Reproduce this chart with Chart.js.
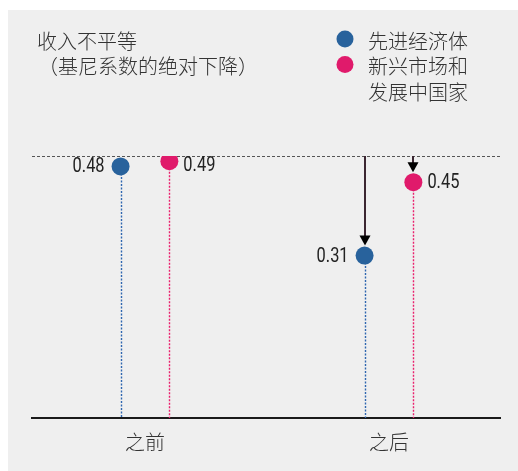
<!DOCTYPE html>
<html>
<head>
<meta charset="utf-8">
<script src="https://cdn.jsdelivr.net/npm/chart.js@4.4.1/dist/chart.umd.min.js"></script>
<style>
  html, body { margin: 0; padding: 0; background: #fff; }
  #wrap { width: 518px; height: 471px; }
</style>
</head>
<body>
<div id="wrap"><canvas id="grafico"></canvas></div>
<script>
// dados
const categorias = ["之前", "之后"];
const avancadas = [0.48, 0.31];
const emergentes = [0.49, 0.45];
const referencia = 0.5;
const nomesSeries = [["先进经济体"], ["新兴市场和", "发展中国家"]];
const titulo = ["收入不平等", "（基尼系数的绝对下降）"];

const azul = "#28629c";
const rosa = "#e01a6b";
const cjk = "'Noto Sans CJK SC', 'Noto Sans', sans-serif";

function pontos(valores, desloc) {
  return valores.map((v, i) => ({ x: i + 1 + desloc, y: v }));
}

const fundo = {
  id: "fundo",
  beforeDraw(chart) {
    const ctx = chart.ctx;
    ctx.save();
    ctx.fillStyle = "#efefef";
    ctx.fillRect(8, 10, 510, 461);
    ctx.restore();
  },
};

const hastes = {
  id: "hastes",
  beforeDatasetsDraw(chart) {
    const ctx = chart.ctx;
    const y = chart.scales.y;
    const x = chart.scales.x;
    ctx.save();
    // linha pontilhada de referencia
    ctx.strokeStyle = "#555";
    ctx.lineWidth = 1;
    ctx.setLineDash([3, 2]);
    const yr = Math.round(y.getPixelForValue(referencia)) + 0.5;
    ctx.beginPath();
    ctx.moveTo(x.left, yr);
    ctx.lineTo(x.right, yr);
    ctx.stroke();

    const cores = ["#2f66b0", "#ea1f6c"];
    chart.data.datasets.forEach((ds, di) => {
      ctx.strokeStyle = cores[di];
      ctx.lineWidth = 1.4;
      ctx.setLineDash([2, 1.5]);
      ds.data.forEach((p) => {
        const px = Math.round(x.getPixelForValue(p.x)) + 0.5;
        ctx.beginPath();
        ctx.moveTo(px, y.getPixelForValue(p.y));
        ctx.lineTo(px, y.getPixelForValue(0));
        ctx.stroke();
      });
    });

    // setas do "depois"
    ctx.setLineDash([]);
    chart.data.datasets.forEach((ds) => {
      const p = ds.data[1];
      const px = Math.round(x.getPixelForValue(p.x));
      const topo = y.getPixelForValue(referencia);
      const ponta = y.getPixelForValue(p.y) - 10;
      ctx.strokeStyle = "#3b2631";
      ctx.lineWidth = 2;
      ctx.beginPath();
      ctx.moveTo(px, topo);
      ctx.lineTo(px, ponta - 8);
      ctx.stroke();
      ctx.fillStyle = "#000";
      ctx.beginPath();
      ctx.moveTo(px - 5.5, ponta - 10);
      ctx.lineTo(px + 5.5, ponta - 10);
      ctx.lineTo(px, ponta);
      ctx.closePath();
      ctx.fill();
    });
    ctx.restore();
  },
  afterDatasetsDraw(chart) {
    const ctx = chart.ctx;
    const y = chart.scales.y;
    const x = chart.scales.x;
    ctx.save();
    ctx.font = "20px Roboto, sans-serif";
    ctx.fillStyle = "#222";
    ctx.textBaseline = "middle";
    // rotulos: azul à esquerda, rosa à direita (fonte estreitada)
    chart.data.datasets.forEach((ds, di) => {
      ds.data.forEach((p, i) => {
        const px = x.getPixelForValue(p.x);
        let py = y.getPixelForValue(p.y) + 1;
        if (di == 1 && i == 0) py += 4;
        ctx.save();
        ctx.translate(di == 0 ? px - 16 : px + 14, py);
        ctx.scale(0.82, 1);
        ctx.textAlign = di == 0 ? "right" : "left";
        ctx.fillText(p.y.toFixed(2), 0, 0);
        ctx.restore();
      });
    });

    // titulo
    ctx.font = "300 20px " + cjk;
    ctx.fillStyle = "#333";
    ctx.textAlign = "left";
    ctx.fillText(titulo[0], 37, 41);
    ctx.fillText(titulo[1], 38, 66);

    // legenda
    const cores = [azul, rosa];
    let ly = 41;
    nomesSeries.forEach((linhas, i) => {
      ctx.fillStyle = cores[i];
      ctx.beginPath();
      ctx.arc(345, ly - 2, 8.5, 0, Math.PI * 2);
      ctx.fill();
      ctx.fillStyle = "#333";
      linhas.forEach((t) => {
        ctx.fillText(t, 368, ly);
        ly += 25.5;
      });
    });
    ctx.restore();
  },
};

new Chart(document.getElementById("grafico"), {
  type: "scatter",
  data: {
    datasets: [
      {
        label: nomesSeries[0].join(""),
        data: pontos(avancadas, -0.1),
        backgroundColor: azul,
        borderWidth: 0,
        pointRadius: 9,
        pointHoverRadius: 9,
      },
      {
        label: nomesSeries[1].join(""),
        data: pontos(emergentes, 0.1),
        backgroundColor: rosa,
        borderWidth: 0,
        pointRadius: 9,
        pointHoverRadius: 9,
      },
    ],
  },
  options: {
    responsive: true,
    maintainAspectRatio: false,
    animation: false,
    layout: { padding: { left: 32, right: 18, top: 156, bottom: 5 } },
    plugins: {
      legend: { display: false },
      tooltip: { enabled: false },
    },
    scales: {
      x: {
        type: "linear",
        min: 0.537,
        max: 2.455,
        grid: { display: false, drawTicks: false },
        border: { display: true, color: "#1a1a1a", width: 2 },
        afterBuildTicks: (ax) => {
          ax.ticks = categorias.map((c, i) => ({ value: i + 1 }));
        },
        ticks: {
          padding: 12,
          color: "#333",
          font: { family: cjk, size: 20, weight: 300 },
          callback: (v) => categorias[v - 1],
        },
      },
      y: {
        display: false,
        min: 0,
        max: referencia,
      },
    },
  },
  plugins: [fundo, hastes],
});
</script>
</body>
</html>
